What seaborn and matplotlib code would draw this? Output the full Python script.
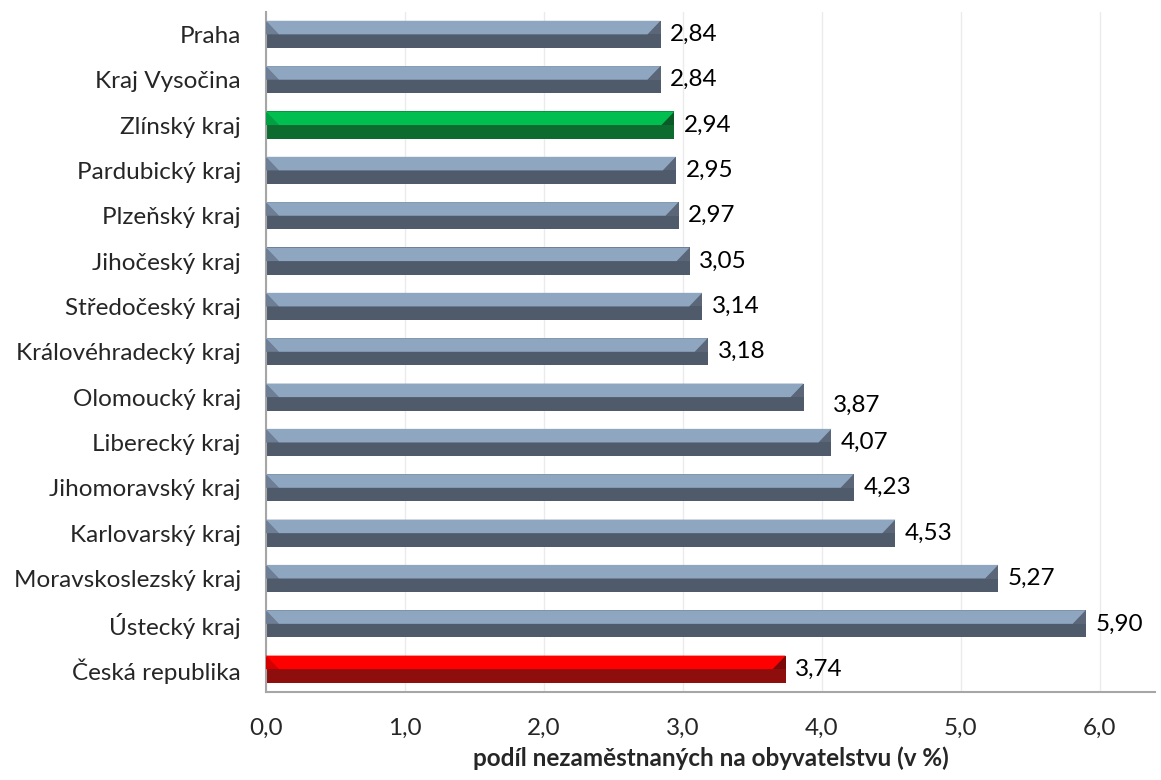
import numpy as np
import pandas as pd
import matplotlib.pyplot as plt
from matplotlib.patches import Polygon
import seaborn as sns

regions = ['Praha', 'Kraj Vysočina', 'Zlínský kraj', 'Pardubický kraj', 'Plzeňský kraj',
           'Jihočeský kraj', 'Středočeský kraj', 'Královéhradecký kraj', 'Olomoucký kraj',
           'Liberecký kraj', 'Jihomoravský kraj', 'Karlovarský kraj', 'Moravskoslezský kraj',
           'Ústecký kraj', 'Česká republika']
values = [2.84, 2.84, 2.94, 2.95, 2.97, 3.05, 3.14, 3.18, 3.87, 4.07, 4.23, 4.53, 5.27, 5.90, 3.74]
xticks = [0, 1, 2, 3, 4, 5, 6]
xlabel = 'podíl nezaměstnaných na obyvatelstvu (v %)'

# colour scheme per bar: (light top, dark bottom, left bevel, right bevel)
grey = ('#8FA6C1', '#4F5A6B', '#6E7E95', '#5B6779')
green = ('#00BF50', '#0D6B2F', '#03A043', '#0A5A28')
red = ('#FF0000', '#8E0E0E', '#D40000', '#7A0A0A')
schemes = [grey] * len(regions)
schemes[regions.index('Zlínský kraj')] = green
schemes[regions.index('Česká republika')] = red

# manual label nudges (x in data units, y in category units), like the moved Excel label
label_dx = [0.0] * len(regions)
label_dy = [0.0] * len(regions)
label_dx[regions.index('Olomoucký kraj')] = 0.14
label_dy[regions.index('Olomoucký kraj')] = 0.18

df = pd.DataFrame({'region': regions, 'value': values})

sns.set_style('white')
plt.rcParams['font.family'] = ['Lato', 'DejaVu Sans']
fs = 17.5

fig = plt.figure(figsize=(11.61, 7.8), dpi=100)
ax = fig.add_axes([0.229, 0.113, 0.766, 0.872])

sns.barplot(data=df, x='value', y='region', hue='region', legend=False,
            palette=[s[1] for s in schemes], width=0.6, saturation=1, ax=ax, zorder=2)

ax.set_xlim(0, 6.4)
ax.set_ylim(len(regions) - 0.5, -0.5)

bev_px = 13
px_per_unit = ax.get_window_extent().width / 6.4
bev = bev_px / px_per_unit

for i, patch in enumerate(ax.patches):
    x0 = patch.get_x()
    w = patch.get_width()
    y0 = patch.get_y()
    h = patch.get_height()
    x1 = x0 + w
    ytop = min(y0, y0 + h)
    ybot = max(y0, y0 + h)
    ymid = (ytop + ybot) / 2
    light, dark, lbev, rbev = schemes[i]
    patch.set_edgecolor('none')
    # left bevel triangle (upper half)
    ax.add_patch(Polygon([(x0, ytop), (x0 + bev, ymid), (x0, ymid)], closed=True,
                         facecolor=lbev, edgecolor='none', zorder=3))
    # right bevel triangle (upper half)
    ax.add_patch(Polygon([(x1, ytop), (x1, ymid), (x1 - bev, ymid)], closed=True,
                         facecolor=rbev, edgecolor='none', zorder=3))
    # light top face
    ax.add_patch(Polygon([(x0, ytop), (x1, ytop), (x1 - bev, ymid), (x0 + bev, ymid)],
                         closed=True, facecolor=light, edgecolor='none', zorder=3))
    ax.text(x1 + 0.07 + label_dx[i], i + label_dy[i], f'{values[i]:.2f}'.replace('.', ','),
            va='center', ha='left', fontsize=fs, color='#000000')

ax.set_xticks(xticks)
ax.set_xticklabels([f'{t:.1f}'.replace('.', ',') for t in xticks], fontsize=fs)
ax.set_yticks(range(len(regions)))
ax.set_yticklabels(regions, fontsize=fs)
ax.set_yticks(np.arange(-0.5, len(regions), 1.0), minor=True)
ax.tick_params(axis='y', which='major', length=0, pad=18)
ax.tick_params(axis='y', which='minor', length=7, color='#A6A6A6', width=1.2, direction='out')
ax.tick_params(axis='x', which='major', length=7, color='#A6A6A6', width=1.2, direction='out', pad=12)

ax.grid(axis='x', color='#EBEBEB', linewidth=1, zorder=0)
ax.set_axisbelow(True)
for s in ['top', 'right']:
    ax.spines[s].set_visible(False)
for s in ['left', 'bottom']:
    ax.spines[s].set_color('#A6A6A6')
    ax.spines[s].set_linewidth(1.5)

ax.set_ylabel('')
ax.set_xlabel(xlabel, fontsize=fs, fontweight='bold', labelpad=5)

fig.savefig('out.png', dpi=100)
